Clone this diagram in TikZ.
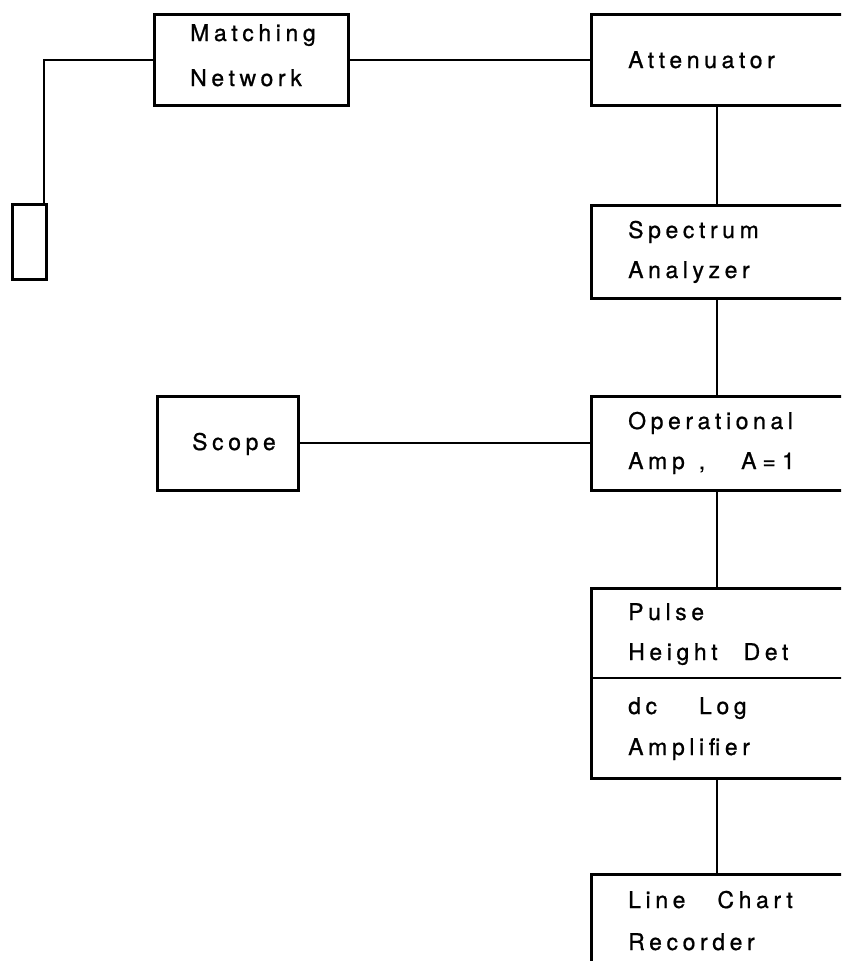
\documentclass[tikz,border=0pt]{standalone}
\usepackage{fontspec}
\setmainfont{TeX Gyre Heros}[LetterSpace=20,FakeBold=0.8]
\begin{document}
\begin{tikzpicture}[x=1pt,y=-1pt,
  box/.style={draw, line width=2.6pt, rectangle, anchor=north west, inner sep=0pt},
  wire/.style={line width=1.8pt},
  lbl/.style={anchor=base west, inner sep=0pt, font=\fontsize{23}{27}\selectfont}]
\clip (0,0) rectangle (841,961);
\fill[white] (0,0) rectangle (841,961);
% boxes
\node[box, minimum width=194pt, minimum height=91pt] (mn) at (153,13) {};
\node[box, minimum width=310pt, minimum height=91pt] (att) at (590,13) {};
\node[box, minimum width=310pt, minimum height=93pt] (spec) at (590,204) {};
\node[box, minimum width=310pt, minimum height=94pt] (op) at (590,395) {};
\node[box, minimum width=141pt, minimum height=94pt] (scope) at (156,395) {};
\node[box, minimum width=310pt, minimum height=190pt] (pd) at (590,587) {};
\node[box, minimum width=310pt, minimum height=150pt] (lcr) at (590,873) {};
\node[box, minimum width=34pt, minimum height=75pt] (sensor) at (11,203) {};
\coordinate (div) at (590,678);
\draw[line width=2.6pt] (div) -- ++(320,0);
% labels
\node[lbl] (t1) at (190,41) {Matching};
\node[lbl] (t2) at (190,86) {Network};
\node[lbl] (t3) at (628,68) {Attenuator};
\node[lbl] (t4) at (628,238) {Spectrum};
\node[lbl] (t5) at (628,278) {Analyzer};
\node[lbl] (t6) at (628,429) {Operational};
\node[lbl] (t7) at (628,469) {Amp\hspace{14pt},\hspace{36pt}A\hspace{6pt}=\hspace{6pt}1};
\node[lbl] (t8) at (192,450) {Scope};
\node[lbl] (t9) at (628,620) {Pulse};
\node[lbl] (t10) at (628,660) {Height\hspace{26pt}Det};
\node[lbl] (t11) at (628,714) {dc\hspace{42pt}Log};
\node[lbl] (t12) at (628,755) {Amplifier};
\node[lbl] (t13) at (628,908) {Line\hspace{32pt}Chart};
\node[lbl] (t14) at (628,950) {Recorder};
% connectors
\coordinate (vx) at (717,0);
\coordinate (lx) at (44,0);
\draw[wire] (mn.west) -- (mn.west -| lx) -- (sensor.north -| lx);
\draw[wire] (mn.east) -- (mn.east -| att.west);
\draw[wire] (att.south -| vx) -- (spec.north -| vx);
\draw[wire] (spec.south -| vx) -- (op.north -| vx);
\draw[wire] (scope.east) -- (scope.east -| op.west);
\draw[wire] (op.south -| vx) -- (pd.north -| vx);
\draw[wire] (pd.south -| vx) -- (lcr.north -| vx);
\end{tikzpicture}
\end{document}
